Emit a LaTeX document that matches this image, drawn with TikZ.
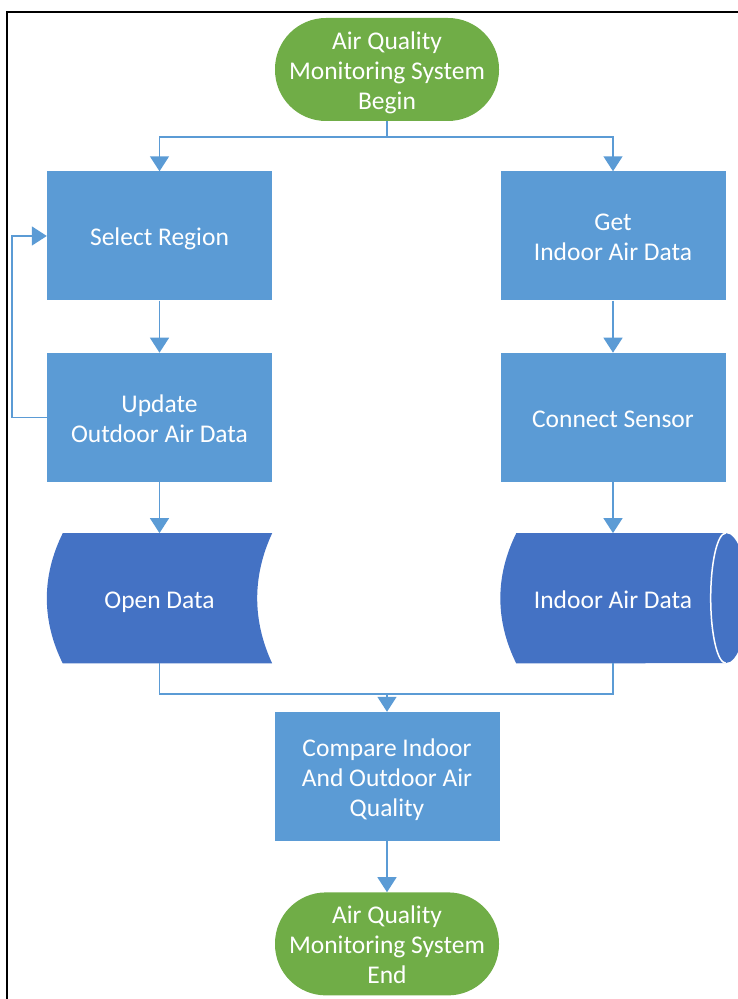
\documentclass[tikz,border=0pt]{standalone}
\usepackage{fontspec}
\setmainfont{Carlito}
\usetikzlibrary{arrows.meta,positioning,calc,backgrounds}
\definecolor{termgreen}{HTML}{70AD47}
\definecolor{procblue}{HTML}{5B9BD5}
\definecolor{datablue}{HTML}{4472C4}
\tikzset{
  every node/.style={font=\fontsize{25.5}{30}\selectfont, text=white, align=center,
    text height=25pt, text depth=5pt},
  twolines/.style={text height=55pt},
  threelines/.style={text height=85pt},
  terminal/.style={fill=termgreen, rounded corners=51pt, minimum width=224pt, minimum height=103pt, inner sep=0pt},
  process/.style={fill=procblue, minimum width=225pt, minimum height=129pt, inner sep=0pt},
  storage/.style={minimum width=225pt, minimum height=130pt, inner sep=0pt},
  link/.style={draw=procblue, line width=1.5pt},
  flow/.style={link, -{Triangle[length=15pt,width=19pt]}},
}
\begin{document}
\begin{tikzpicture}[x=1pt,y=1pt]
	\useasboundingbox (0,0) rectangle (738,999);
	\draw[line width=2pt] (738,987) -- (7,987) -- (7,0);
	\node[terminal, threelines] (begin) at (387,929.5) {Air Quality\\Monitoring System\\Begin};
	\node[process] (select) at (159.5,763) {Select Region};
	\node[process, twolines, below=52pt of select] (update) {Update\\Outdoor Air Data};
	\node[storage, below=51pt of update] (open) {Open Data};
	\node[process, twolines] (getin) at (613,763) {Get\\Indoor Air Data};
	\node[process, below=52pt of getin] (connect) {Connect Sensor};
	\node[storage, below=51pt of connect] (indoor) {Indoor Air Data};
	\node[process, threelines] (compare) at (387,222.5) {Compare Indoor\\And Outdoor Air\\Quality};
	\node[terminal, threelines, below=51pt of compare] (end) {Air Quality\\Monitoring System\\End};
	% data shapes behind the labels
	\begin{scope}[on background layer]
		\fill[datablue] ($(open.north west)+(16,0)$) -- (open.north east)
			.. controls ($(open.north east)+(-20,-43)$) and ($(open.south east)+(-20,43)$) .. (open.south east)
			-- ($(open.south west)+(16,0)$)
			.. controls ($(open.south west)+(-5.3,43)$) and ($(open.north west)+(-5.3,-43)$) .. cycle;
		\fill[datablue] ($(indoor.north west)+(16,0)$) -- (indoor.north east)
			arc[start angle=90, end angle=-90, x radius=22, y radius=65]
			-- ($(indoor.south west)+(16,0)$)
			.. controls ($(indoor.south west)+(-5.3,43)$) and ($(indoor.north west)+(-5.3,-43)$) .. cycle;
		\draw[white, line width=1.5pt] (indoor.north east) arc[start angle=90, end angle=270, x radius=15, y radius=65];
	\end{scope}
	\coordinate (split) at ($(begin.south)+(0,-16)$);
	\draw[link] (begin.south) -- (split);
	\draw[flow] (split) -| (select.north);
	\draw[flow] (split) -| (getin.north);
	\draw[flow] (select) -- (update);
	\draw[flow] (update) -- (open);
	\draw[flow] (update.west) -- ++(-35,0) |- (select.west);
	\draw[flow] (getin) -- (connect);
	\draw[flow] (connect) -- (indoor);
	\coordinate (merge) at ($(compare.north)+(0,18)$);
	\draw[link] (open.south) |- (merge);
	\draw[link] (indoor.south) |- (merge);
	\draw[flow] (merge) -- (compare);
	\draw[flow] (compare) -- (end);
\end{tikzpicture}
\end{document}
